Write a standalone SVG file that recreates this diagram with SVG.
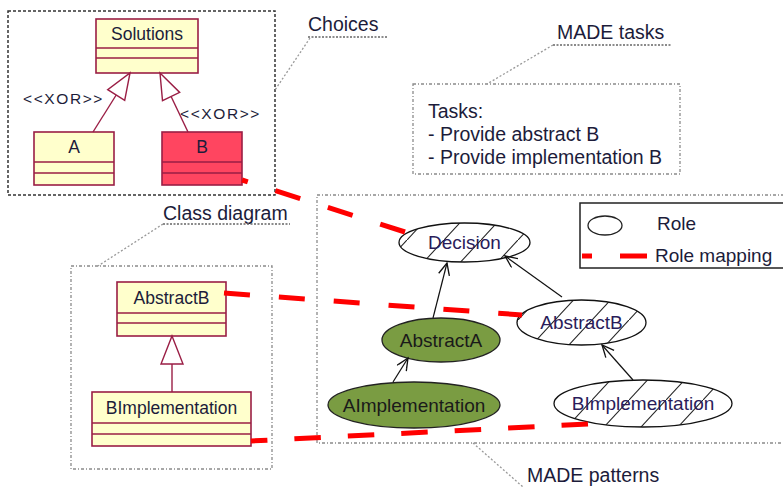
<svg xmlns="http://www.w3.org/2000/svg" width="783" height="487" viewBox="0 0 783 487">
  <style>
    text { font-family: "Liberation Sans", Arial, sans-serif; fill: #1c1c3a; }
    .lbl { font-size: 19.5px; }
    .cls { font-size: 17.5px; text-anchor: middle; }
    .role { font-size: 19px; text-anchor: middle; fill: #2a1c5a; }
    .xor { font-size: 15.5px; letter-spacing: 1.6px; }
    .frame { fill: none; stroke: #8a8a8a; stroke-width: 1.3; stroke-dasharray: 3 2 1 2; }
    .frame-dark { fill: none; stroke: #333; stroke-width: 1.5; stroke-dasharray: 3 2; }
    .leader { fill: none; stroke: #999; stroke-width: 1.3; stroke-dasharray: 2 2; }
    .uline { fill: none; stroke: #666; stroke-width: 1.3; stroke-dasharray: 2 1.5; }
    .box { fill: #ffffcc; stroke: #9a1e45; stroke-width: 1.6; }
    .box-sel { fill: #ff4560; stroke: #9a1e45; stroke-width: 1.6; }
    .div { stroke: #9a1e45; stroke-width: 1.4; }
    .gen { fill: #fff; stroke: #9a1e45; stroke-width: 1.4; }
    .genline { stroke: #9a1e45; stroke-width: 1.4; fill: none; }
    .hatched { fill: url(#hatch); stroke: #111; stroke-width: 1.3; }
    .green { fill: #7a9c42; stroke: #222; stroke-width: 1.3; }
    .dep { stroke: #111; stroke-width: 1.2; fill: none; marker-end: url(#open); }
    .map { stroke: #ff0000; stroke-width: 5; fill: none; }
  </style>
  <defs>
    <pattern id="hatch" patternUnits="userSpaceOnUse" width="37" height="40">
      <rect width="37" height="40" fill="#fff"/>
      <path d="M0,40 L37,0" stroke="#222" stroke-width="1.1"/>
    </pattern>
    <marker id="open" markerUnits="userSpaceOnUse" markerWidth="16" markerHeight="14" refX="13" refY="6" orient="auto">
      <path d="M1,0.5 L13,6 L1,11.5 M3,1.5 L13,6 L3,10.5" fill="none" stroke="#111" stroke-width="1.3"/>
    </marker>
  </defs>

  <!-- frames and notes -->
  <g id="choices-frame">
    <rect class="frame-dark" x="8" y="11" width="267" height="184"/>
    <text class="lbl" x="308" y="31">Choices</text>
    <line class="uline" x1="308" y1="37" x2="387" y2="37"/>
    <line class="leader" x1="310" y1="38" x2="275" y2="90"/>
  </g>

  <g id="made-tasks">
    <rect class="frame" x="413" y="84" width="267" height="90"/>
    <text class="lbl" x="557" y="39">MADE tasks</text>
    <line class="uline" x1="553" y1="45" x2="672" y2="45"/>
    <line class="leader" x1="553" y1="45" x2="487" y2="84"/>
    <text class="lbl" x="428" y="118">Tasks:</text>
    <text class="lbl" x="428" y="141">- Provide abstract B</text>
    <text class="lbl" x="428" y="164">- Provide implementation B</text>
  </g>

  <g id="class-diagram-frame">
    <rect class="frame" x="71" y="266" width="201" height="203"/>
    <text class="lbl" x="163" y="220">Class diagram</text>
    <line class="uline" x1="163" y1="224" x2="290" y2="224"/>
    <line class="leader" x1="163" y1="224" x2="98" y2="266"/>
  </g>

  <g id="made-patterns-frame">
    <rect class="frame" x="317" y="195" width="480" height="248"/>
    <text class="lbl" x="527" y="482">MADE patterns</text>
    <line class="leader" x1="473" y1="443" x2="523" y2="487"/>
  </g>

  <!-- UML classes -->
  <g id="solutions">
    <rect class="box" x="96" y="19" width="102" height="54"/>
    <line class="div" x1="96" y1="48" x2="198" y2="48"/>
    <line class="div" x1="96" y1="58" x2="198" y2="58"/>
    <text class="cls" x="147" y="40">Solutions</text>
  </g>
  <g id="class-a">
    <rect class="box" x="34" y="132" width="80" height="53"/>
    <line class="div" x1="34" y1="162" x2="114" y2="162"/>
    <line class="div" x1="34" y1="173" x2="114" y2="173"/>
    <text class="cls" x="74" y="153">A</text>
  </g>
  <g id="class-b">
    <rect class="box-sel" x="162" y="132" width="80" height="53"/>
    <line class="div" x1="162" y1="162" x2="242" y2="162"/>
    <line class="div" x1="162" y1="173" x2="242" y2="173"/>
    <text class="cls" x="202" y="153">B</text>
  </g>
  <g id="class-abstractb">
    <rect class="box" x="117" y="282" width="109" height="54"/>
    <line class="div" x1="117" y1="313" x2="226" y2="313"/>
    <line class="div" x1="117" y1="323" x2="226" y2="323"/>
    <text class="cls" x="171.5" y="304">AbstractB</text>
  </g>
  <g id="class-bimplementation">
    <rect class="box" x="92" y="392" width="159" height="54"/>
    <line class="div" x1="92" y1="423" x2="251" y2="423"/>
    <line class="div" x1="92" y1="434" x2="251" y2="434"/>
    <text class="cls" x="171.5" y="414">BImplementation</text>
  </g>

  <!-- roles -->
  <g id="role-decision">
    <ellipse class="hatched" cx="464.5" cy="242.5" rx="65.5" ry="19.5"/>
    <text class="role" x="464.5" y="249">Decision</text>
  </g>
  <g id="role-abstractb">
    <ellipse class="hatched" cx="581.5" cy="322.5" rx="64.5" ry="22.5"/>
    <text class="role" x="581.5" y="329">AbstractB</text>
  </g>
  <g id="role-abstracta">
    <ellipse class="green" cx="441" cy="340" rx="59" ry="22"/>
    <text class="role" x="441" y="347" style="fill:#1a1a1a">AbstractA</text>
  </g>
  <g id="role-aimplementation">
    <ellipse class="green" cx="414" cy="405" rx="86" ry="23"/>
    <text class="role" x="414" y="412" style="fill:#1a1a1a">AImplementation</text>
  </g>
  <g id="role-bimplementation">
    <ellipse class="hatched" cx="643" cy="403.5" rx="89" ry="23.5"/>
    <text class="role" x="643" y="410">BImplementation</text>
  </g>

  <!-- legend -->
  <g id="legend">
    <rect x="580" y="203" width="210" height="65" fill="#fff" stroke="#222" stroke-width="1.5"/>
    <ellipse cx="605" cy="225.5" rx="17" ry="9.5" fill="none" stroke="#222" stroke-width="1.3"/>
    <text class="lbl" x="657" y="230" style="font-size:19px">Role</text>
    <line class="map" x1="582" y1="256" x2="592" y2="256"/>
    <line class="map" x1="620" y1="256" x2="647" y2="256"/>
    <text class="lbl" x="655" y="262" style="font-size:19px">Role mapping</text>
  </g>

  <!-- connectors -->
  <g id="connectors">
    <!-- generalizations -->
    <line class="genline" x1="93" y1="132" x2="116.2" y2="95"/>
    <polygon class="gen" points="130,73 124.7,100.3 107.7,89.7"/>
    <line class="genline" x1="188" y1="132" x2="171.1" y2="96.5"/>
    <polygon class="gen" points="160,73 179.7,92.4 162.5,100.6"/>
    <line class="genline" x1="172" y1="392" x2="172" y2="364"/>
    <polygon class="gen" points="172,336 183,364 161,364"/>
    <text class="xor" x="23" y="104">&lt;&lt;XOR&gt;&gt;</text>
    <text class="xor" x="180" y="119">&lt;&lt;XOR&gt;&gt;</text>

    <!-- role dependencies -->
    <line class="dep" x1="433" y1="318" x2="447" y2="263"/>
    <line class="dep" x1="562" y1="297" x2="505" y2="256"/>
    <line class="dep" x1="393" y1="382" x2="408" y2="358"/>
    <line class="dep" x1="633" y1="380" x2="602" y2="345"/>

    <!-- role mappings -->
    <line class="map" x1="405" y1="232" x2="242" y2="180" stroke-dasharray="26 29"/>
    <line class="map" x1="224" y1="293" x2="522" y2="315" stroke-dasharray="26 29"/>
    <line class="map" x1="588" y1="424" x2="251" y2="441" stroke-dasharray="26.5 27"/>
  </g>
</svg>
